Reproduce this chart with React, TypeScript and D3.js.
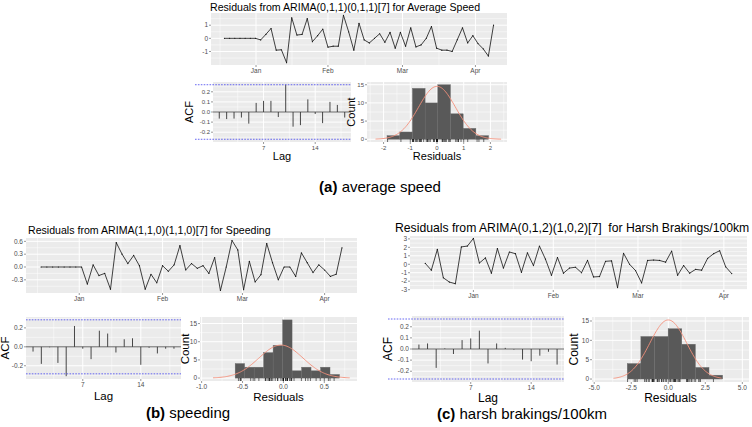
import React from 'react';
import * as d3 from 'd3';

// residual series
const speedResiduals = [0, 0, 0, 0, 0, 0, 0, -0.12, 0.3, 0.75, -0.9, -0.87, -1.85, 1.57, 0.25, 0.3, 1.5, -0.25, 0.2, 0.7,
  -0.67, -0.6, -0.6, 1.75, 0.5, -0.9, 1.15, -0.12, -0.35, 0, 0.35, -0.3, 0.45, -0.75, 0.45, -0.6, 0.8, -0.65, -0.5, 0,
  0.9, -0.75, -0.9, -0.9, -1.0, -0.1, 0.8, -0.35, 0.2, -0.4, -0.8, -1.35, 1.0];
const speedingResiduals = [0, 0, 0, 0, 0, 0, 0, 0, -0.4, 0.05, -0.2, -0.15, -0.52, 0.57, 0.3, 0.08, 0.27, 0.03, -0.52, -0.17,
  -0.37, 0.03, -0.1, 0.05, 0.5, -0.07, 0.08, -0.03, 0.03, -0.15, 0.22, -0.55, 0.0, 0.62, 0.4, -0.53, 0.13, -0.35, -0.18, 0.55,
  0.1, -0.3, 0.0, 0.0, -0.22, 0.33, 0.1, -0.13, 0.05, -0.07, -0.22, -0.17, 0.45];
const brakingResiduals = [0.1, -0.7, 1.75, -1.6, -2.1, -2.3, 2.05, 2.15, 3.05, 0.15, 0.75, -1.05, 1.85, -0.45, 1.45, 1.25,
  -0.95, 1.35, -0.15, 2.15, 0.6, -1.3, 0.8, -1.05, -0.45, -0.35, -1.0, 0.45, -1.5, -1.45, 0.35, 0.4, -2.75, 1.3, 0.0, -0.75,
  -2.2, 0.45, 0.5, 0.45, 0.25, 1.55, -1.3, -0.15, -1.05, -0.6, -0.7, 0.7, 1.25, 1.6, -0.3, -1.1];

const monthLabels = ['Jan', 'Feb', 'Mar', 'Apr'];
const monthIndexSpeed = [6.1, 20.0, 34.4, 48.5];
const monthIndexSpeeding = [6.6, 21.0, 34.8, 49.0];
const monthIndexBraking = [8.0, 21.3, 35.4, 49.7];

// autocorrelations, lag 1 upwards
const speedAcf = [-0.065, -0.07, -0.065, -0.055, -0.115, 0.09, 0.11, 0.11, -0.05, 0.27, -0.145, -0.13, 0.125, -0.02, -0.11, 0.1, 0.07, -0.055];
const speedingAcf = [-0.05, -0.18, -0.005, -0.17, -0.31, 0.22, -0.02, -0.13, 0.17, 0.14, -0.06, 0.08, 0.09, -0.19, -0.01, -0.07, -0.02, -0.02];
const brakingAcf = [0.04, 0.05, -0.17, 0.005, -0.045, 0.08, 0.095, 0.165, -0.13, 0.05, 0.01, -0.005, -0.095, -0.11, -0.06, -0.025, -0.14];

// histogram counts
const speedCounts = [1, 2, 14, 10, 15, 7, 3, 1];
const speedingCounts = [4, 3, 3, 7, 9, 16, 2, 3, 2, 3, 1];
const brakingCounts = [4, 11, 11, 13, 9, 3, 1];

const FONT = 'Liberation Sans, Arial, sans-serif';
const PANEL_BG = '#EBEBEB';
const TICK_TXT = '#4D4D4D';

const expand = (lo: number, hi: number, f = 0.05): [number, number] => {
  const d = (hi - lo) * f;
  return [lo - d, hi + d];
};

const minorOf = (ticks: number[], dom: [number, number]) => {
  const a = ticks[0] - (ticks[1] - ticks[0]);
  const b = ticks[ticks.length - 1] + (ticks[ticks.length - 1] - ticks[ticks.length - 2]);
  const all = [a, ...ticks, b];
  const out: number[] = [];
  for (let i = 0; i < all.length - 1; i++) {
    const m = (all[i] + all[i + 1]) / 2;
    if (m > Math.min(...dom) && m < Math.max(...dom)) out.push(m);
  }
  return out;
};

function Grid({ box, x, y, xTicks, yTicks }: any) {
  const xd = x.domain(), yd = y.domain();
  return (
    <g>
      <rect x={box.x} y={box.y} width={box.w} height={box.h} fill={PANEL_BG} />
      {minorOf(yTicks, yd).map((t: number, i: number) => (
        <line key={'ym' + i} x1={box.x} x2={box.x + box.w} y1={y(t)} y2={y(t)} stroke="#fff" strokeWidth={0.5} />
      ))}
      {minorOf(xTicks, xd).map((t: number, i: number) => (
        <line key={'xm' + i} y1={box.y} y2={box.y + box.h} x1={x(t)} x2={x(t)} stroke="#fff" strokeWidth={0.5} />
      ))}
      {yTicks.map((t: number, i: number) => (
        <line key={'y' + i} x1={box.x} x2={box.x + box.w} y1={y(t)} y2={y(t)} stroke="#fff" strokeWidth={1} />
      ))}
      {xTicks.map((t: number, i: number) => (
        <line key={'x' + i} y1={box.y} y2={box.y + box.h} x1={x(t)} x2={x(t)} stroke="#fff" strokeWidth={1} />
      ))}
    </g>
  );
}

function Axes({ box, x, y, xTicks, xLabels, yTicks, yLabels, fs }: any) {
  const bottom = box.y + box.h;
  return (
    <g fontFamily={FONT} fontSize={fs} fill={TICK_TXT}>
      {yTicks.map((t: number, i: number) => (
        <g key={'y' + i}>
          <line x1={box.x - 2} x2={box.x} y1={y(t)} y2={y(t)} stroke="#333" strokeWidth={0.5} />
          <text x={box.x - 3} y={y(t)} dy="0.35em" textAnchor="end">{yLabels[i]}</text>
        </g>
      ))}
      {xTicks.map((t: number, i: number) => (
        <g key={'x' + i}>
          <line y1={bottom} y2={bottom + 2} x1={x(t)} x2={x(t)} stroke="#333" strokeWidth={0.5} />
          <text x={x(t)} y={bottom + 3 + fs * 0.8} textAnchor="middle">{xLabels[i]}</text>
        </g>
      ))}
    </g>
  );
}

function TsPanel({ box, values, yTicks, yLabels, months, fs }: any) {
  const x = d3.scaleLinear().domain(expand(0, values.length - 1)).range([box.x, box.x + box.w]);
  const [lo, hi] = d3.extent(values) as [number, number];
  const y = d3.scaleLinear().domain(expand(lo, hi)).range([box.y + box.h, box.y]);
  const line = d3.line<number>().x((_, i) => x(i)).y(d => y(d));
  return (
    <g>
      <Grid box={box} x={x} y={y} xTicks={months} yTicks={yTicks} />
      <path d={line(values) || ''} fill="none" stroke="#111" strokeWidth={0.8} />
      {values.map((v: number, i: number) => (
        <circle key={i} cx={x(i)} cy={y(v)} r={0.6} fill="#111" />
      ))}
      <Axes box={box} x={x} y={y} xTicks={months} xLabels={monthLabels} yTicks={yTicks} yLabels={yLabels} fs={fs} />
    </g>
  );
}

function AcfPanel({ box, acf, ci, yTicks, yLabels, fs, overflow, titleFs, acfX, titleGap }: any) {
  const lags = acf.map((_: number, i: number) => i + 1);
  const x = d3.scaleLinear().domain(expand(1, acf.length)).range([box.x, box.x + box.w]);
  const lo = Math.min(-ci, d3.min(acf) as number);
  const hi = Math.max(ci, d3.max(acf) as number);
  const y = d3.scaleLinear().domain(expand(lo, hi)).range([box.y + box.h, box.y]);
  const xTicks = [7, 14];
  return (
    <g>
      <Grid box={box} x={x} y={y} xTicks={xTicks} yTicks={yTicks} />
      <line x1={box.x} x2={box.x + box.w} y1={y(0)} y2={y(0)} stroke="#222" strokeWidth={0.7} />
      {lags.map((l: number, i: number) => (
        <line key={l} x1={x(l)} x2={x(l)} y1={y(0)} y2={y(acf[i])} stroke="#333" strokeWidth={0.9} />
      ))}
      {[ci, -ci].map((c, i) => (
        <line key={i} x1={box.x - overflow} x2={box.x + box.w} y1={y(c)} y2={y(c)}
          stroke="#5858F0" strokeWidth={0.9} strokeDasharray="1.6 1.3" />
      ))}
      <Axes box={box} x={x} y={y} xTicks={xTicks} xLabels={['7', '14']} yTicks={yTicks} yLabels={yLabels} fs={fs} />
      <text x={box.x + box.w / 2} y={box.y + box.h + titleGap} textAnchor="middle" fontFamily={FONT} fontSize={titleFs}>Lag</text>
      <text transform={`translate(${acfX},${box.y + box.h / 2}) rotate(-90)`} textAnchor="middle"
        fontFamily={FONT} fontSize={titleFs}>ACF</text>
    </g>
  );
}

function HistPanel({ box, counts, binStart, binWidth, xDomain, xTicks, xLabels, residuals, mean, sd, curve, fs, titleFs, countX, titleGap }: any) {
  const x = d3.scaleLinear().domain(xDomain).range([box.x, box.x + box.w]);
  const n = d3.sum(counts) as number;
  const dens = (v: number) => (n * binWidth) / (sd * Math.sqrt(2 * Math.PI)) * Math.exp(-0.5 * ((v - mean) / sd) ** 2);
  const peak = dens(mean);
  const y = d3.scaleLinear().domain(expand(0, Math.max(peak, d3.max(counts) as number))).range([box.y + box.h, box.y]);
  const curvePts = d3.range(curve[0], curve[1] + 1e-9, (curve[1] - curve[0]) / 120);
  const line = d3.line<number>().x(v => x(v)).y(v => y(dens(v)));
  const yTicks = [0, 5, 10, 15];
  const bottom = box.y + box.h;
  return (
    <g>
      <Grid box={box} x={x} y={y} xTicks={xTicks} yTicks={yTicks} />
      {counts.map((c: number, i: number) => (
        <rect key={i} x={x(binStart + i * binWidth)} width={x(binStart + (i + 1) * binWidth) - x(binStart + i * binWidth)}
          y={y(c)} height={y(0) - y(c)} fill="#595959" stroke="#6a6a6a" strokeWidth={0.4} />
      ))}
      <path d={line(curvePts) || ''} fill="none" stroke="#F4907A" strokeWidth={0.9} />
      {residuals.map((r: number, i: number) => (
        <line key={i} x1={x(r)} x2={x(r)} y1={bottom} y2={bottom - 3} stroke="#111" strokeWidth={0.6} />
      ))}
      <Axes box={box} x={x} y={y} xTicks={xTicks} xLabels={xLabels} yTicks={yTicks} yLabels={['0', '5', '10', '15']} fs={fs} />
      <text x={box.x + box.w / 2} y={box.y + box.h + titleGap} textAnchor="middle" fontFamily={FONT} fontSize={titleFs}>Residuals</text>
      <text transform={`translate(${countX},${box.y + box.h / 2}) rotate(-90)`} textAnchor="middle"
        fontFamily={FONT} fontSize={titleFs}>Count</text>
    </g>
  );
}

function Caption({ x, y, tag, label }: any) {
  return (
    <text x={x} y={y} textAnchor="middle" fontFamily={FONT} fontSize={15}>
      <tspan fontWeight="bold">{tag}</tspan> {label}
    </text>
  );
}

export default function App() {
  const acfTicks5 = [-0.2, -0.1, 0, 0.1, 0.2];
  const acfLabels5 = ['-0.2', '-0.1', '0.0', '0.1', '0.2'];
  return (
    <svg width={752} height={427} style={{ position: 'absolute', left: 0, top: 0, background: '#fff' }}>
      {/* (a) average speed */}
      <text x={210} y={10.5} fontFamily={FONT} fontSize={10.6}>Residuals from ARIMA(0,1,1)(0,1,1)[7] for Average Speed</text>
      <TsPanel box={{ x: 211, y: 13, w: 296, h: 52 }} values={speedResiduals} yTicks={[-1, 0, 1]}
        yLabels={['-1', '0', '1']} months={monthIndexSpeed} fs={6.5} />
      <AcfPanel box={{ x: 213, y: 82, w: 138, h: 60 }} acf={speedAcf} ci={0.27} yTicks={acfTicks5} yLabels={acfLabels5}
        fs={6} overflow={18} titleFs={11} acfX={193} titleGap={18} />
      <HistPanel box={{ x: 367, y: 82, w: 140, h: 60 }} counts={speedCounts} binStart={-1.87} binWidth={0.475}
        xDomain={[-2.62, 2.62]} xTicks={[-2, -1, 0, 1, 2]} xLabels={['-2', '-1', '0', '1', '2']} residuals={speedResiduals}
        mean={0} sd={0.69} curve={[-2.3, 2.4]} fs={6} titleFs={11} countX={355} titleGap={18} />
      <Caption x={380} y={192} tag="(a)" label="average speed" />

      {/* (b) speeding */}
      <text x={28} y={234} fontFamily={FONT} fontSize={10.6}>Residuals from ARIMA(1,1,0)(1,1,0)[7] for Speeding</text>
      <TsPanel box={{ x: 26, y: 238, w: 331, h: 55 }} values={speedingResiduals} yTicks={[-0.3, 0, 0.3, 0.6]}
        yLabels={['-0.3', '0.0', '0.3', '0.6']} months={monthIndexSpeeding} fs={6.5} />
      <AcfPanel box={{ x: 26, y: 317, w: 155, h: 62 }} acf={speedingAcf} ci={0.285} yTicks={[-0.2, 0, 0.2]}
        yLabels={['-0.2', '0.0', '0.2']} fs={6.5} overflow={0} titleFs={11.5} acfX={9} titleGap={21} />
      <HistPanel box={{ x: 200, y: 317, w: 157, h: 64 }} counts={speedingCounts} binStart={-0.59} binWidth={0.116}
        xDomain={[-1.02, 0.9]} xTicks={[-1, -0.5, 0, 0.5]} xLabels={['-1.0', '-0.5', '0.0', '0.5']} residuals={speedingResiduals}
        mean={-0.03} sd={0.27} curve={[-0.86, 0.81]} fs={6.5} titleFs={11.5} countX={189} titleGap={20} />
      <Caption x={188} y={418} tag="(b)" label="speeding" />

      {/* (c) harsh brakings */}
      <text x={395} y={232} fontFamily={FONT} fontSize={12.2} style={{ whiteSpace: 'pre' }}>Residuals from ARIMA(0,1,2)(1,0,2)[7]  for Harsh Brakings/100km</text>
      <TsPanel box={{ x: 410, y: 236, w: 337, h: 54 }} values={brakingResiduals} yTicks={[-3, -2, -1, 0, 1, 2, 3]}
        yLabels={['-3', '-2', '-1', '0', '1', '2', '3']} months={monthIndexBraking} fs={6.5} />
      <AcfPanel box={{ x: 412, y: 316, w: 152, h: 66 }} acf={brakingAcf} ci={0.27} yTicks={acfTicks5} yLabels={acfLabels5}
        fs={6.5} overflow={24} titleFs={12} acfX={392} titleGap={20} />
      <HistPanel box={{ x: 592, y: 317, w: 157, h: 65 }} counts={brakingCounts} binStart={-2.77} binWidth={0.92}
        xDomain={[-5.15, 5.45]} xTicks={[-5, -2.5, 0, 2.5, 5]} xLabels={['-5.0', '-2.5', '0.0', '2.5', '5.0']} residuals={brakingResiduals}
        mean={0} sd={1.25} curve={[-3.7, 3.6]} fs={6.5} titleFs={12} countX={578} titleGap={20} />
      <Caption x={522} y={419} tag="(c)" label="harsh brakings/100km" />
    </svg>
  );
}
